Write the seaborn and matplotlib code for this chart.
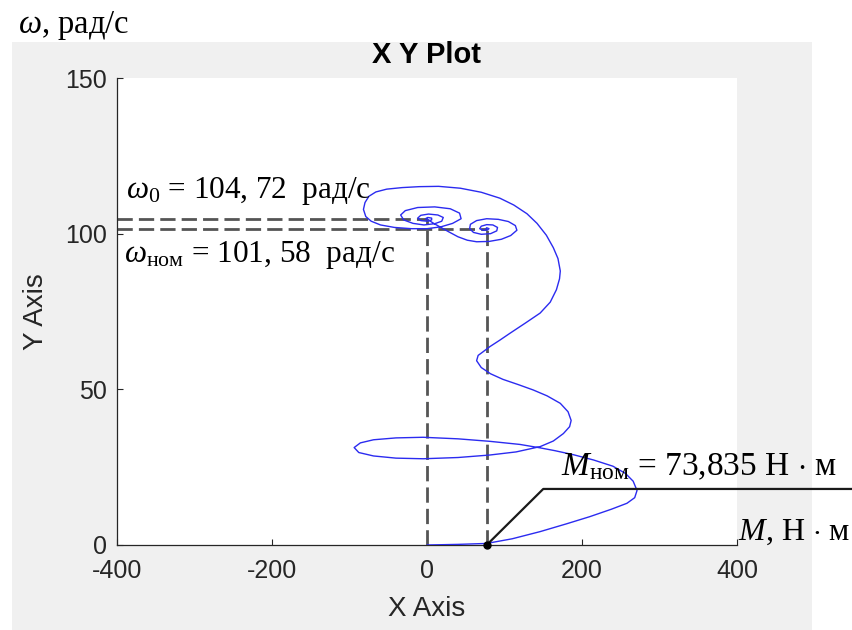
import matplotlib
matplotlib.use("Agg")
import matplotlib.pyplot as plt
from matplotlib.patches import Rectangle
import numpy as np
import pandas as pd
import seaborn as sns

# ---------------- data ----------------
torque_M = [0, 40, 77, 110, 146, 180, 210, 238, 258, 268, 271, 266, 256, 240, 215, 189, 165, 146,
            120, 81, 40, -5, -40, -69, -86, -94, -88, -69, -40, -5, 40, 81, 115, 146,
            163, 176, 184, 186, 182, 172, 155, 137, 118, 98, 82, 70, 64, 66, 72, 81,
            94, 107, 127, 146, 159, 167, 171, 172, 169, 163, 154, 142, 129, 112, 94, 70,
            43, 15, -10, -32, -52, -66, -75, -80, -82, -79, -72, -60, -42, -20, 0, 18,
            33, 44, 42, 30, 10, -12, -28, -34, -30, -18, -4, 10, 19, 21, 14, 2,
            -8, -12, -8, 0, 6, 6, 1, -2, 0,
            8, 18, 28, 40, 52, 64, 80, 96, 108, 116, 114, 105, 92, 77, 64, 56,
            55, 60, 70, 82, 90, 91, 85, 77, 70, 68, 72, 78, 80, 77, 76]
speed_w = [0, 0.2, 0.5, 2.0, 4.3, 6.8, 9.1, 11.5, 13.4, 15.2, 17.5, 20.5, 23.0, 25.3, 27.3, 29.0, 30.3, 31.2,
           32.3, 33.3, 34.1, 34.6, 34.4, 33.8, 32.8, 31.3, 29.7, 28.6, 27.9, 27.7, 28.1, 28.9, 29.9, 31.6,
           33.4, 35.8, 38.0, 40.0, 42.8, 45.5, 47.9, 49.8, 51.5, 53.2, 55.0, 57.0, 59.2, 60.9, 62.0, 63.7,
           65.8, 68.0, 71.3, 74.5, 78.0, 82.0, 85.5, 88.0, 92.0, 95.5, 99.5, 103.3, 106.4, 109.2, 111.4, 113.3,
           114.6, 115.2, 115.1, 114.8, 114.3, 113.4, 112.0, 110.0, 107.8, 105.5, 104.0, 102.8, 102.0, 101.6, 101.6, 102.2,
           103.3, 104.8, 106.6, 108.0, 108.6, 108.4, 107.4, 106.0, 104.4, 103.3, 102.8, 103.2, 104.0, 105.2, 106.0, 106.3,
           105.9, 105.0, 104.2, 104.0, 104.4, 105.0, 105.2, 104.8, 104.72,
           103.4, 102.0, 100.6, 99.0, 97.9, 97.4, 97.5, 98.2, 99.4, 101.1, 102.6, 103.9, 104.6, 104.8, 104.2, 103.0,
           101.6, 100.4, 99.8, 100.0, 100.9, 102.0, 102.8, 102.9, 102.4, 101.6, 101.1, 101.2, 101.6, 101.9, 101.58]

w0 = 104.72          # synchronous speed, rad/s
w_nom = 101.58       # rated speed, rad/s
m_nom_pos = 77       # rated torque position as drawn
mech_x = [77, 150, 550]   # load characteristic
mech_y = [0, 18, 18]

x_ticks = [-400, -200, 0, 200, 400]
y_ticks = [0, 50, 100, 150]

label_w0 = r"$\omega_0$ = 104, 72  рад/с"
label_wnom = r"$\omega_{\mathrm{ном}}$ = 101, 58  рад/с"
label_mnom = r"$M_{\mathrm{ном}}$ = 73,835 Н $\cdot$ м"
label_m = r"$M$, Н $\cdot$ м"
label_w = r"$\omega$, рад/с"

# ---------------- style ----------------
sns.set_theme(style="ticks")
plt.rcParams["font.family"] = ["Liberation Sans", "DejaVu Sans"]
plt.rcParams["mathtext.fontset"] = "custom"
plt.rcParams["mathtext.rm"] = "Liberation Serif"
plt.rcParams["mathtext.it"] = "Liberation Serif:italic"
plt.rcParams["mathtext.bf"] = "Liberation Serif:bold"

W, H = 853, 630
fig = plt.figure(figsize=(W / 100, H / 100), dpi=100, facecolor="white")
fig.patches.append(Rectangle((12 / W, 0), (812 - 12) / W, (630 - 42) / H,
                             transform=fig.transFigure, facecolor="#f0f0f0",
                             edgecolor="none", zorder=-10))
ax = fig.add_axes([117 / W, 1 - 545 / H, 620 / W, 467 / H])
ax.set_zorder(1)
ax.set_facecolor("white")

df = pd.DataFrame({"M": torque_M, "w": speed_w})
sns.lineplot(data=df, x="M", y="w", sort=False, estimator=None, color="#2b2bf0",
             linewidth=1.0, ax=ax, zorder=3)

dash_kw = dict(color="#555555", linewidth=2.0, linestyle=(0, (5.5, 2.2)), zorder=2)
ax.plot([-400, 0], [w0, w0], **dash_kw)
ax.plot([-400, m_nom_pos], [w_nom, w_nom], **dash_kw)
ax.plot([0, 0], [0, w0], **dash_kw)
ax.plot([m_nom_pos, m_nom_pos], [0, w_nom], **dash_kw)

ax.plot(mech_x, mech_y, color="#1a1a1a", linewidth=1.6, clip_on=False, zorder=4)
ax.plot([mech_x[0]], [mech_y[0]], marker="o", markersize=5, color="black",
        clip_on=False, zorder=5)

ax.set_xlim(-400, 400)
ax.set_ylim(0, 150)
ax.set_xticks(x_ticks)
ax.set_yticks(y_ticks)
ax.set_xticklabels([str(v) for v in x_ticks])
ax.tick_params(axis="both", direction="in", length=4, width=0.8, colors="#262626",
               labelsize=18)
ax.tick_params(axis="x", pad=10)
ax.tick_params(axis="y", pad=7)
for s in ["top", "right"]:
    ax.spines[s].set_visible(False)
for s in ["left", "bottom"]:
    ax.spines[s].set_color("#262626")
    ax.spines[s].set_linewidth(0.9)

ax.set_xlabel("X Axis", fontsize=20, color="#262626")
ax.set_ylabel("Y Axis", fontsize=20, color="#262626")
ax.xaxis.set_label_coords(0.5, -0.11)
ax.yaxis.set_label_coords(-0.11, 0.5)
ax.set_title("X Y Plot", fontsize=21, fontweight="bold", color="black", pad=11)

serif = ["Liberation Serif", "DejaVu Serif"]
ax.text(-389, 111.5, label_w0, family=serif, fontsize=22.5, color="black",
        va="baseline", ha="left", clip_on=False, zorder=6)
ax.text(-391, 91.0, label_wnom, family=serif, fontsize=22.5, color="black",
        va="baseline", ha="left", clip_on=False, zorder=6)
ax.text(173, 22.3, label_mnom, family=serif, fontsize=24, color="black",
        va="baseline", ha="left", clip_on=False, zorder=6)
ax.text(401, 1.6, label_m, family=serif, fontsize=23, color="black",
        va="baseline", ha="left", clip_on=False, zorder=6)
fig.text(18 / W, 1 - 33 / H, label_w, family=serif, fontsize=23.5, color="black",
         va="baseline", ha="left")

fig.savefig("out.png", dpi=100, facecolor="white")
